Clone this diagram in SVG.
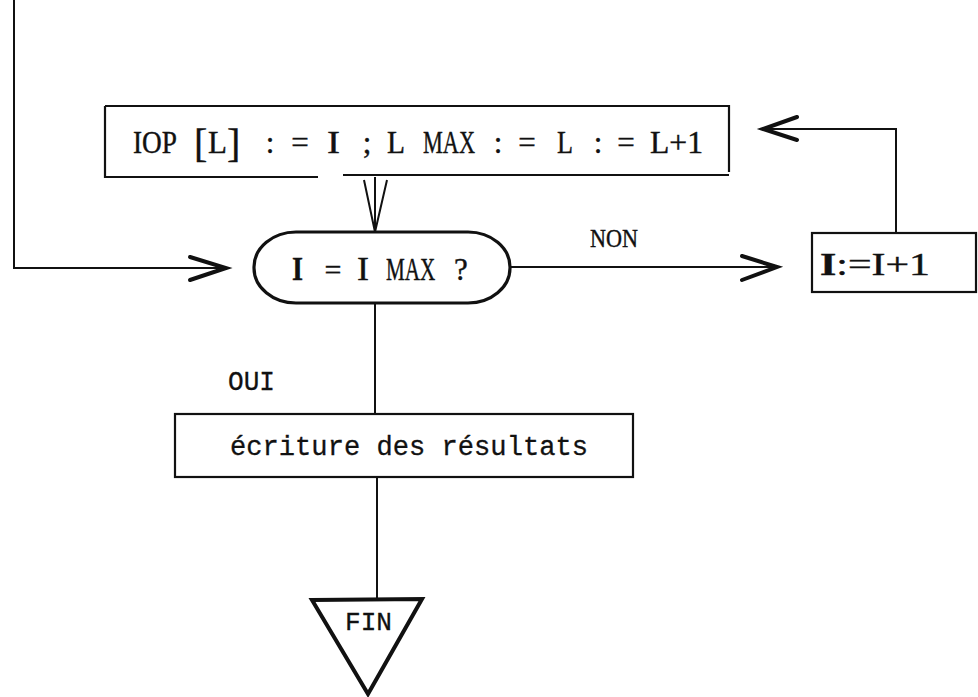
<svg xmlns="http://www.w3.org/2000/svg" width="978" height="697" viewBox="0 0 978 697">
<style>
.ln{fill:none;stroke:#111;stroke-width:2}
.box{fill:none;stroke:#111;stroke-width:2.2}
.chev{fill:none;stroke:#111;stroke-width:4;stroke-linecap:round;stroke-linejoin:miter}
.serif{font-family:"Liberation Serif","Times New Roman",serif;fill:#111;stroke:#111;stroke-width:0.4}
.mono{font-family:"Liberation Mono","Courier New",monospace;fill:#111;stroke:#111;stroke-width:0.3}
</style>
<rect width="978" height="697" fill="#fff"/>
<g id="connectors">
  <polyline class="ln" points="14,0 14,268 225,268"/>
  <polyline class="chev" points="190,257 226,268 190,280"/>
  <line class="ln" x1="375" y1="177" x2="375" y2="232"/>
  <polyline class="ln" points="364,180 375,232 387,180"/>
  <line class="ln" x1="510" y1="267" x2="776" y2="267"/>
  <polyline class="chev" points="742,256 777,267 742,280"/>
  <polyline class="ln" points="896,233 896,129 764,129"/>
  <polyline class="chev" points="797,117 763,129 797,140"/>
  <line class="ln" x1="375" y1="303" x2="375" y2="414"/>
  <line class="ln" x1="377" y1="477" x2="377" y2="600"/>
</g>
<g id="loopStart">
  <path class="box" d="M105,106 H729 V172 M729,175 H343 M318,177 H105 V106"/>
  <text class="serif" font-size="31" x="133" y="153" textLength="44" lengthAdjust="spacingAndGlyphs">IOP</text>
  <text class="serif" font-size="31" y="153"><tspan x="194" y="157" font-size="40">[</tspan><tspan x="208" y="153">L</tspan><tspan x="227" y="157" font-size="40">]</tspan></text>
  <text class="serif" font-size="31" x="270" y="153" text-anchor="middle">:</text>
  <text class="serif" font-size="31" x="300" y="153" text-anchor="middle">=</text>
  <text class="serif" font-size="31" x="327" y="153" textLength="13" lengthAdjust="spacingAndGlyphs">I</text>
  <text class="serif" font-size="31" x="367" y="153" text-anchor="middle">;</text>
  <text class="serif" font-size="31" x="387" y="153" textLength="18" lengthAdjust="spacingAndGlyphs">L</text>
  <text class="serif" font-size="31" x="423" y="153" textLength="52" lengthAdjust="spacingAndGlyphs">MAX</text>
  <text class="serif" font-size="31" x="498" y="153" text-anchor="middle">:</text>
  <text class="serif" font-size="31" x="527" y="153" text-anchor="middle">=</text>
  <text class="serif" font-size="31" x="557" y="153" textLength="16" lengthAdjust="spacingAndGlyphs">L</text>
  <text class="serif" font-size="31" x="598" y="153" text-anchor="middle">:</text>
  <text class="serif" font-size="31" x="626" y="153" text-anchor="middle">=</text>
  <text class="serif" font-size="31" x="650" y="153" textLength="53" lengthAdjust="spacingAndGlyphs">L+1</text>
</g>
<g id="decision">
  <rect x="254" y="232" width="256" height="71" rx="42" ry="35" fill="none" stroke="#111" stroke-width="3.2"/>
  <text class="serif" font-size="33" font-weight="bold" x="292" y="280" textLength="11" lengthAdjust="spacingAndGlyphs">I</text>
  <text class="serif" font-size="30" x="333" y="280" text-anchor="middle">=</text>
  <text class="serif" font-size="33" x="357" y="280" textLength="12" lengthAdjust="spacingAndGlyphs">I</text>
  <text class="serif" font-size="32" transform="translate(386,280) scale(0.66,1)" x="0" y="0">MAX</text>
  <text class="serif" font-size="31" x="454" y="280">?</text>
</g>
<g id="increment">
  <rect class="box" x="812" y="233" width="164" height="59"/>
  <text class="serif" font-size="31" x="820" y="275" textLength="110" lengthAdjust="spacingAndGlyphs"><tspan font-weight="bold">I</tspan>:=I+1</text>
</g>
<g id="labels">
  <text class="serif" font-size="25" x="590" y="247" textLength="48" lengthAdjust="spacingAndGlyphs">NON</text>
  <text class="mono" font-size="27" x="228" y="390" textLength="47" lengthAdjust="spacingAndGlyphs">OUI</text>
</g>
<g id="output">
  <rect class="box" x="175" y="414" width="458" height="63"/>
  <text class="mono" font-size="27" x="230" y="455" textLength="358" lengthAdjust="spacingAndGlyphs">écriture des résultats</text>
</g>
<g id="end">
  <polygon points="312,600 422,599 368,694" fill="none" stroke="#111" stroke-width="4" stroke-linejoin="miter"/>
  <text class="mono" font-size="26" x="345" y="630" textLength="47" lengthAdjust="spacingAndGlyphs">FIN</text>
</g>
</svg>
